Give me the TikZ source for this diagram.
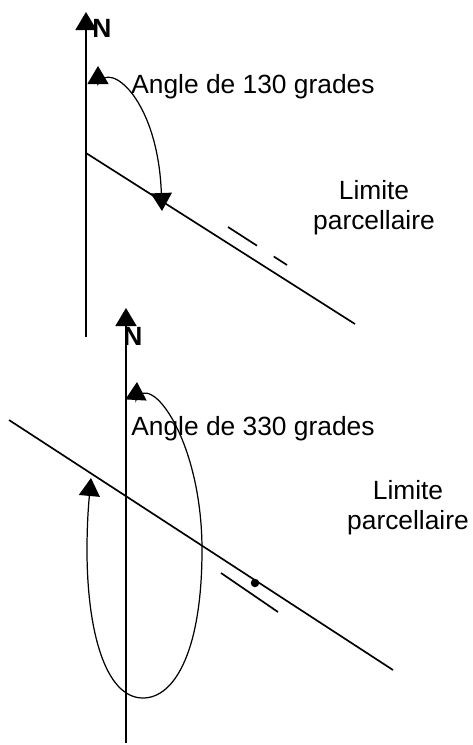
\documentclass[tikz,border=0pt]{standalone}
\usepackage{fontspec}
\setmainfont{Liberation Sans}
\usetikzlibrary{arrows.meta}

\begin{document}
\begin{tikzpicture}[
  x=0.02cm, y=-0.02cm,
  axis/.style={line width=0.95pt, -{Triangle[width=0.42cm, length=0.36cm]}},
  limit/.style={line width=0.95pt},
  turn/.style={line width=0.7pt, {Triangle[width=0.42cm, length=0.36cm]}-{Triangle[width=0.42cm, length=0.36cm]}},
  txt/.style={font=\fontsize{15}{17}\selectfont, inner sep=0pt},
  nletter/.style={font=\fontsize{15}{17}\selectfont\bfseries, inner sep=0pt},
  dot/.style={circle, fill=black, inner sep=0pt, minimum size=0.17cm}
]
\useasboundingbox (0,0) rectangle (473,745);

% Part 1 - north axis
\coordinate (axA-foot) at (86,337);
\coordinate (axA-tip) at (86,12);
\draw[axis] (axA-foot) -- (axA-tip);
\node[nletter] (nA) at (102,28) {N};

% Part 1 - parcel limit
\coordinate (limA-start) at (86,153);
\coordinate (limA-end) at (355,324);
\draw[limit] (limA-start) -- (limA-end);
\coordinate (parA-start) at (228,227);
\coordinate (parA-end) at (287,265);
\draw[limit, dash pattern=on 0.69cm off 0.4cm] (parA-start) -- (parA-end);

% Part 1 - angle
\coordinate (arcA-tip) at (98,66);
\coordinate (arcA-end) at (162,211);
\draw[turn] (arcA-tip) -- (98,84) .. controls (110,60) and (158,100) .. (arcA-end);

% Part 1 - labels
\node[txt, anchor=base west] (angA) at (131,93) {Angle de 130 grades};
\node[txt, align=center, anchor=north] (limA-txt) at (374,180) {Limite\\parcellaire};

% Part 2 - north axis
\coordinate (axB-foot) at (126,743);
\coordinate (axB-tip) at (126,308);
\draw[axis] (axB-foot) -- (axB-tip);
\node[nletter] (nB) at (133,336) {N};

% Part 2 - parcel limit
\coordinate (limB-start) at (9,420);
\coordinate (limB-end) at (393,670);
\draw[limit] (limB-start) -- (limB-end);
\coordinate (parB-start) at (221,573);
\coordinate (parB-end) at (278,612);
\draw[limit] (parB-start) -- (parB-end);
\node[dot] (pin) at (255,583) {};

% Part 2 - angle
\coordinate (arcB-tip) at (137,382);
\coordinate (arcB-end) at (91,478);
\draw[turn] (arcB-tip) -- (136,400) .. controls (150,370) and (202,440) .. (202,550)
  .. controls (202,650) and (175,698) .. (143,698)
  .. controls (105,698) and (87,630) .. (87,550)
  .. controls (87,520) and (89,500) .. (arcB-end);

% Part 2 - labels
\node[txt, anchor=base west] (angB) at (131,435) {Angle de 330 grades};
\node[txt, align=center, anchor=north] (limB-txt) at (408,480) {Limite\\parcellaire};

\end{tikzpicture}
\end{document}
